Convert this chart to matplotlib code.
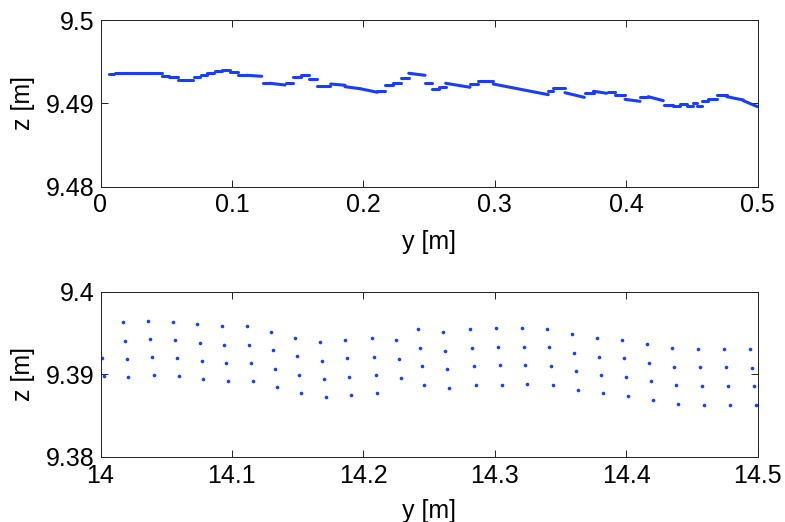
import matplotlib
matplotlib.use("Agg")
import matplotlib.pyplot as plt
import numpy as np

plt.rcParams['font.family'] = ['Liberation Sans', 'DejaVu Sans']

# ---------------- top panel: step segments of the dense point profile ----------------
top_y0 = [0.0065, 0.0110, 0.0409, 0.0466, 0.0521, 0.0592, 0.0709, 0.0765, 0.0813, 0.0871,
          0.0927, 0.0986, 0.1049, 0.1113, 0.1234, 0.1290, 0.1412, 0.1467, 0.1524, 0.1589,
          0.1650, 0.1752, 0.1861, 0.1975, 0.2107, 0.2167, 0.2228, 0.2289, 0.2346, 0.2470,
          0.2525, 0.2576, 0.2627, 0.2812, 0.2871, 0.2989, 0.3408, 0.3446, 0.3535, 0.3687,
          0.3752, 0.3865, 0.3916, 0.3992, 0.4106, 0.4169, 0.4288, 0.4358, 0.4409, 0.4460,
          0.4511, 0.4536, 0.4575, 0.4626, 0.4694, 0.4766, 0.4892]
top_y1 = [0.0105, 0.0409, 0.0466, 0.0521, 0.0588, 0.0706, 0.0760, 0.0808, 0.0866, 0.0922,
          0.0986, 0.1049, 0.1113, 0.1227, 0.1290, 0.1404, 0.1467, 0.1524, 0.1589, 0.1645,
          0.1747, 0.1861, 0.1975, 0.2107, 0.2167, 0.2224, 0.2285, 0.2346, 0.2470, 0.2525,
          0.2576, 0.2627, 0.2812, 0.2871, 0.2989, 0.3408, 0.3446, 0.3535, 0.3682, 0.3752,
          0.3852, 0.3916, 0.3992, 0.4106, 0.4169, 0.4283, 0.4358, 0.4409, 0.4460, 0.4511,
          0.4536, 0.4575, 0.4626, 0.4690, 0.4766, 0.4892, 0.5000]
top_z0 = [9.49351, 9.49367, 9.49360, 9.49327, 9.49312, 9.49279, 9.49312, 9.49339, 9.49367, 9.49384,
          9.49399, 9.49372, 9.49343, 9.49336, 9.49247, 9.49240, 9.49247, 9.49312, 9.49339, 9.49288,
          9.49207, 9.49231, 9.49199, 9.49175, 9.49151, 9.49216, 9.49247, 9.49307, 9.49360, 9.49247,
          9.49175, 9.49199, 9.49240, 9.49231, 9.49264, 9.49231, 9.49144, 9.49180, 9.49127, 9.49120,
          9.49144, 9.49135, 9.49103, 9.49047, 9.49079, 9.49079, 9.48975, 9.48967, 9.48990, 9.48967,
          9.49000, 9.48970, 9.49023, 9.49047, 9.49095, 9.49079, 9.49031]
top_z1 = [9.49351, 9.49367, 9.49360, 9.49327, 9.49312, 9.49279, 9.49312, 9.49339, 9.49367, 9.49384,
          9.49399, 9.49372, 9.49343, 9.49324, 9.49247, 9.49219, 9.49247, 9.49312, 9.49339, 9.49288,
          9.49207, 9.49216, 9.49175, 9.49132, 9.49151, 9.49216, 9.49247, 9.49307, 9.49336, 9.49247,
          9.49175, 9.49199, 9.49192, 9.49231, 9.49264, 9.49103, 9.49144, 9.49180, 9.49071, 9.49120,
          9.49120, 9.49135, 9.49103, 9.49023, 9.49079, 9.49031, 9.48975, 9.48967, 9.48990, 9.48967,
          9.49000, 9.48970, 9.49023, 9.49047, 9.49095, 9.49039, 9.48959]

top_xticks = [0, 0.1, 0.2, 0.3, 0.4, 0.5]
top_xticklabels = ['0', '0.1', '0.2', '0.3', '0.4', '0.5']
top_yticks = [9.48, 9.49, 9.5]
top_yticklabels = ['9.48', '9.49', '9.5']

# ---------------- bottom panel: sparse points ----------------
bot_y = [14.00091, 14.00244,
         14.01690, 14.01842, 14.01994, 14.02116,
         14.03615, 14.03767, 14.03919, 14.04072,
         14.05518, 14.05670, 14.05822, 14.05951,
         14.07367, 14.07549, 14.07702, 14.07823,
         14.09247, 14.09399, 14.09551, 14.09703,
         14.11172, 14.11324, 14.11476, 14.11629,
         14.12998, 14.13151, 14.13303, 14.13455,
         14.14825, 14.14977, 14.15129, 14.15282,
         14.16682, 14.16834, 14.16986, 14.17138,
         14.18630, 14.18782, 14.18935, 14.19087,
         14.20639, 14.20791, 14.20944, 14.21065,
         14.22511, 14.22694, 14.22846,
         14.24186, 14.24338, 14.24490, 14.24642,
         14.26088, 14.26240, 14.26393, 14.26545,
         14.28120, 14.28272, 14.28425, 14.28577,
         14.30076, 14.30228, 14.30380, 14.30533,
         14.32055, 14.32207, 14.32329, 14.32481,
         14.33980, 14.34132, 14.34285, 14.34437,
         14.35860, 14.36012, 14.36164, 14.36317,
         14.37785, 14.37915, 14.38067, 14.38219,
         14.39711, 14.39863, 14.40015, 14.40167,
         14.41613, 14.41766, 14.41918, 14.42070,
         14.43516, 14.43668, 14.43820, 14.43973,
         14.45495, 14.45647, 14.45799, 14.45951,
         14.47473, 14.47626, 14.47778, 14.47930,
         14.49452, 14.49604, 14.49756, 14.49909]
bot_z = [9.39193, 9.38975,
         9.39636, 9.39406, 9.39181, 9.38966,
         9.39648, 9.39427, 9.39205, 9.38987,
         9.39636, 9.39418, 9.39193, 9.38975,
         9.39608, 9.39375, 9.39156, 9.38938,
         9.39588, 9.39358, 9.39136, 9.38914,
         9.39581, 9.39358, 9.39136, 9.38914,
         9.39515, 9.39297, 9.39063, 9.38841,
         9.39439, 9.39217, 9.38987, 9.38768,
         9.39390, 9.39164, 9.38945, 9.38720,
         9.39418, 9.39193, 9.38966, 9.38744,
         9.39439, 9.39205, 9.38987, 9.38768,
         9.39411, 9.39184, 9.38954,
         9.39548, 9.39314, 9.39096, 9.38873,
         9.39515, 9.39285, 9.39063, 9.38833,
         9.39552, 9.39314, 9.39096, 9.38873,
         9.39560, 9.39326, 9.39108, 9.38873,
         9.39560, 9.39333, 9.39108, 9.38885,
         9.39552, 9.39326, 9.39096, 9.38865,
         9.39487, 9.39257, 9.39035, 9.38805,
         9.39439, 9.39212, 9.38987, 9.38768,
         9.39418, 9.39193, 9.38966, 9.38739,
         9.39366, 9.39136, 9.38914, 9.38687,
         9.39318, 9.39087, 9.38865, 9.38635,
         9.39305, 9.39087, 9.38857, 9.38627,
         9.39305, 9.39087, 9.38853, 9.38627,
         9.39305, 9.39079, 9.38853, 9.38627]

bot_xticks = [14, 14.1, 14.2, 14.3, 14.4, 14.5]
bot_xticklabels = ['14', '14.1', '14.2', '14.3', '14.4', '14.5']
bot_yticks = [9.38, 9.39, 9.4]
bot_yticklabels = ['9.38', '9.39', '9.4']

COLOR = '#1a3dff'
FS = 18

fig = plt.figure(figsize=(7.85, 5.22), dpi=100)
W, H = 785, 522
ax1 = fig.add_axes([100.5 / W, (H - 186.5) / H, 657 / W, 166.5 / H])
ax2 = fig.add_axes([100.5 / W, (H - 456.7) / H, 657 / W, 165 / H])


def style(ax, xt, xtl, yt, ytl, xlim, ylim):
    ax.set_xlim(*xlim)
    ax.set_ylim(*ylim)
    ax.set_xticks(xt)
    ax.set_xticklabels(xtl)
    ax.set_yticks(yt)
    ax.set_yticklabels(ytl)
    ax.tick_params(direction='in', length=4.8, width=0.6, top=True, right=True,
                   labelsize=FS, pad=4, colors='black')
    ax.tick_params(axis='x', pad=5)
    for s in ax.spines.values():
        s.set_linewidth(0.7)
        s.set_color('#222222')
    ax.set_xlabel('y [m]', fontsize=FS, labelpad=9)
    ax.set_ylabel('z [m]', fontsize=FS, labelpad=8)


for y0, y1, z0, z1 in zip(top_y0, top_y1, top_z0, top_z1):
    ax1.plot([y0, y1], [z0, z1], color=COLOR, lw=2.2, solid_capstyle='round')
style(ax1, top_xticks, top_xticklabels, top_yticks, top_yticklabels, (0, 0.5), (9.48, 9.5))

ax2.plot(bot_y, bot_z, linestyle='none', marker='o', markersize=2.6,
         markerfacecolor=COLOR, markeredgecolor=COLOR, markeredgewidth=0)
style(ax2, bot_xticks, bot_xticklabels, bot_yticks, bot_yticklabels, (14, 14.5), (9.38, 9.4))
ax2.xaxis.labelpad = 8

fig.savefig('out.png', dpi=100)
